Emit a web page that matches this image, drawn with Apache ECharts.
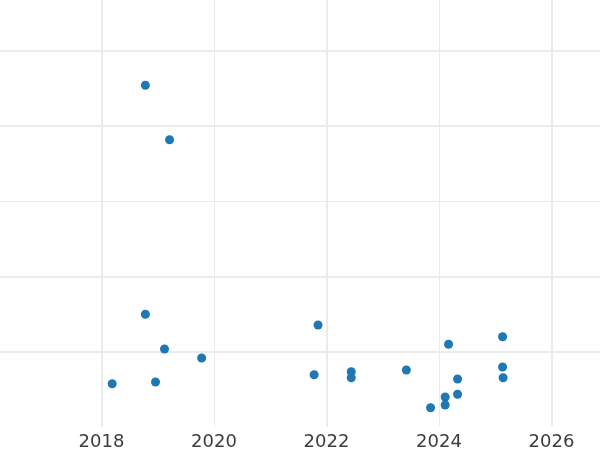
<!DOCTYPE html>
<html>
<head>
<meta charset="utf-8">
<script src="https://cdn.jsdelivr.net/npm/echarts@6/dist/echarts.min.js"></script>
<style>html,body{margin:0;padding:0;background:#fff}#c{width:600px;height:450px}</style>
</head>
<body>
<div id="c"></div>
<script>
const years = [2018.19, 2018.78, 2018.78, 2018.96, 2019.12, 2019.21, 2019.78, 2021.78, 2021.85, 2022.44, 2022.44, 2023.42, 2023.85, 2024.11, 2024.11, 2024.17, 2024.33, 2024.33, 2025.13, 2025.13, 2025.14];
const values = [0.575, 4.541, 1.498, 0.598, 1.037, 3.818, 0.917, 0.695, 1.355, 0.735, 0.655, 0.757, 0.256, 0.399, 0.292, 1.099, 0.638, 0.435, 1.200, 0.797, 0.655];
const xTickLabels = ['2018', '2020', '2022', '2024', '2026'];
const majorX = [2018, 2022, 2026];
const majorY = [1, 2, 4, 5];

const points = years.map((y, i) => [y, values[i]]);
const gridColor = '#ebebeb';

const chart = echarts.init(document.getElementById('c'), null, {renderer: 'canvas'});
chart.setOption({
  animation: false,
  grid: {left: -11, right: -7.75, top: 0, bottom: 23, containLabel: false, outerBoundsMode: 'none'},
  xAxis: {
    type: 'value', min: 2016, max: 2027, interval: 2,
    axisLine: {show: false}, axisTick: {show: false},
    axisLabel: {
      show: true, margin: 6, color: '#3d3d3d', fontSize: 18, fontFamily: 'DejaVu Sans',
      formatter: v => xTickLabels.includes(String(v)) ? String(v) : ''
    },
    splitLine: {show: true, showMinLine: false, showMaxLine: false, lineStyle: {color: gridColor, width: 1}}
  },
  yAxis: {
    type: 'value', min: 0, max: 427 / 75.25, interval: 1,
    axisLine: {show: false}, axisTick: {show: false}, axisLabel: {show: false},
    splitLine: {show: true, showMinLine: false, showMaxLine: false, lineStyle: {color: gridColor, width: 1}}
  },
  series: [
    {
      type: 'line', data: [], z: 0, silent: true,
      markLine: {
        silent: true, symbol: 'none', label: {show: false}, animation: false,
        lineStyle: {color: gridColor, width: 2, type: 'solid'},
        emphasis: {disabled: true},
        data: majorX.map(v => ({xAxis: v})).concat(majorY.map(v => ({yAxis: v})))
      }
    },
    {
      type: 'scatter', data: points, zlevel: 1, z: 5, symbolSize: 9,
      itemStyle: {color: '#1f77b4', opacity: 1}
    }
  ]
});
</script>
</body>
</html>
